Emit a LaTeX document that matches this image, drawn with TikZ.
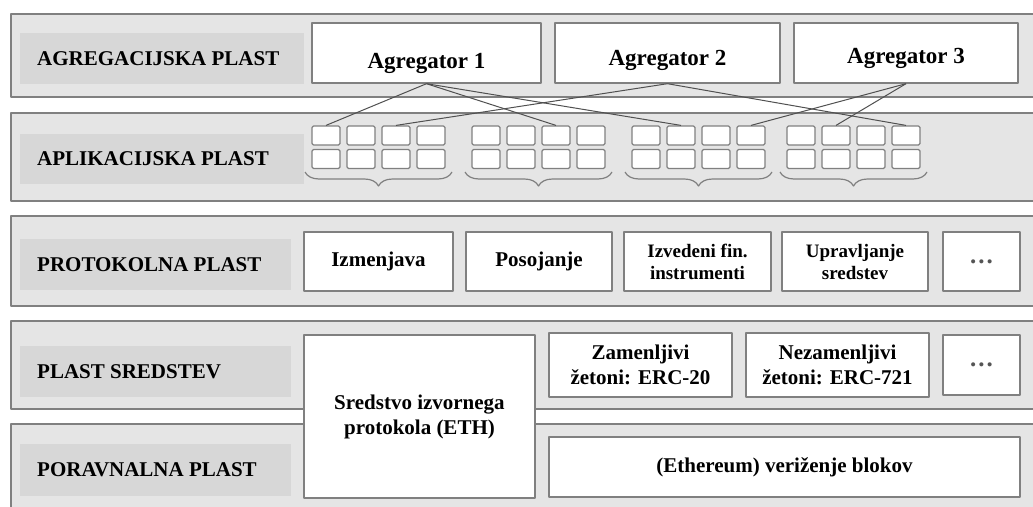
\documentclass[tikz,border=0pt]{standalone}
\usepackage{fontspec}
\setmainfont{Liberation Serif}
\usetikzlibrary{decorations.pathreplacing}

\definecolor{layerfill}{RGB}{229,229,229}
\definecolor{tagfill}{RGB}{215,215,215}
\definecolor{edgegray}{RGB}{128,128,128}
\definecolor{wiregray}{RGB}{80,80,80}
\definecolor{dotgray}{RGB}{85,85,85}

\tikzset{
  layer/.style={fill=layerfill, draw=edgegray, line width=1.4pt},
  tagbg/.style={fill=tagfill},
  tag/.style={anchor=west, inner sep=0pt, font=\bfseries\fontsize{21}{25}\selectfont},
  box/.style={draw=edgegray, line width=1.4pt, fill=white, inner sep=2pt,
    align=center, font=\bfseries\fontsize{21}{25}\selectfont},
  smallbox/.style={box, font=\bfseries\fontsize{19}{22}\selectfont},
  aggbox/.style={box, font=\bfseries\fontsize{23}{27}\selectfont, text depth=0pt},
  cell/.style={draw=edgegray, line width=1.2pt, fill=white, rounded corners=1.5pt,
    minimum width=28pt, minimum height=19pt, inner sep=0pt},
  wire/.style={draw=wiregray, line width=1pt},
  grp/.style={draw=edgegray, line width=1.2pt, decorate,
    decoration={brace, mirror, amplitude=14pt}}
}
\newcommand{\moredots}{\textcolor{dotgray}{\bfseries\fontsize{25}{25}\selectfont .\hspace{2pt}.\hspace{2pt}.}}

\begin{document}
\begin{tikzpicture}[
  x=1pt, y=-1pt, % one pixel, y runs down
  line join=round
]
  \useasboundingbox (0,0) rectangle (1033,506);

  % ---- layers (top/bottom) ----
  \foreach \t/\b in {14/97, 113/201, 216/306, 321/409, 424/530} {
    \draw[layer] (11,\t) rectangle (1045,\b);
  }

  % ---- layer names ----
  \foreach \n/\r/\t/\b/\txt in {
    1/304/33/84/AGREGACIJSKA PLAST,
    2/304/134/184/APLIKACIJSKA PLAST,
    3/291/239/290/PROTOKOLNA PLAST,
    4/291/346/397/PLAST SREDSTEV,
    5/291/444/496/PORAVNALNA PLAST
  }{
    \fill[tagbg] (20,\t) rectangle (\r,\b);
    \node[tag] (tag\n) at (37,{(\t+\b)/2}) {\txt};
  }

  % ---- aggregators (text sits low in the box) ----
  \foreach \i/\cx/\w/\low in {1/426.5/229/30, 2/667.5/225/25, 3/906/224/21} {
    \node[aggbox, text height=\low pt, minimum width=\w pt, minimum height=60pt] (agg\i) at (\cx,53) {Agregator \i};
  }

  % ---- applications: 4 groups of 4x2 cells ----
  \foreach \g/\gx in {1/312, 2/472, 3/632, 4/787} {
    \foreach \c in {1,...,4} {
      \foreach \r/\cy in {1/135.5, 2/159} {
        \node[cell] (app-\g-\c-\r) at ({\gx+(\c-1)*35+14},\cy) {};
      }
    }
    \draw[grp] (\gx-7,172) -- (\gx+140,172);
  }

  % aggregator -> application
  \foreach \a/\g/\c in {1/1/1, 1/2/3, 1/3/2, 2/1/3, 2/4/4, 3/3/4, 3/4/2} {
    \draw[wire] (agg\a.south) -- (app-\g-\c-1.north);
  }

  % ---- protocols ----
  \node[box, minimum width=149pt, minimum height=59pt] (izmenjava) at (378.5,261.5) {Izmenjava};
  \node[box, minimum width=146pt, minimum height=59pt] (posojanje) at (539,261.5) {Posojanje};
  \node[smallbox, minimum width=147pt, minimum height=59pt] (izvedeni) at (697.5,261.5) {Izvedeni fin.\\instrumenti};
  \node[smallbox, minimum width=146pt, minimum height=59pt] (upravljanje) at (855,261.5) {Upravljanje\\sredstev};
  \node[box, minimum width=77pt, minimum height=59pt] (protmore) at (981.5,261.5) {\moredots};

  % ---- assets ----
  \node[box, minimum width=231pt, minimum height=163pt] (native) at (419.5,416.5) {Sredstvo izvornega\\protokola (ETH)};
  \node[box, minimum width=183pt, minimum height=64pt] (erc20) at (640.5,365) {Zamenljivi\\žetoni: ERC-20};
  \node[box, minimum width=183pt, minimum height=64pt] (erc721) at (837.5,365) {Nezamenljivi\\žetoni: ERC-721};
  \node[box, minimum width=77pt, minimum height=60pt] (assetmore) at (981.5,365) {\moredots};

  % ---- settlement ----
  \node[box, minimum width=471pt, minimum height=60pt] (chain) at (784.5,467) {(Ethereum) veriženje blokov};

\end{tikzpicture}
\end{document}
